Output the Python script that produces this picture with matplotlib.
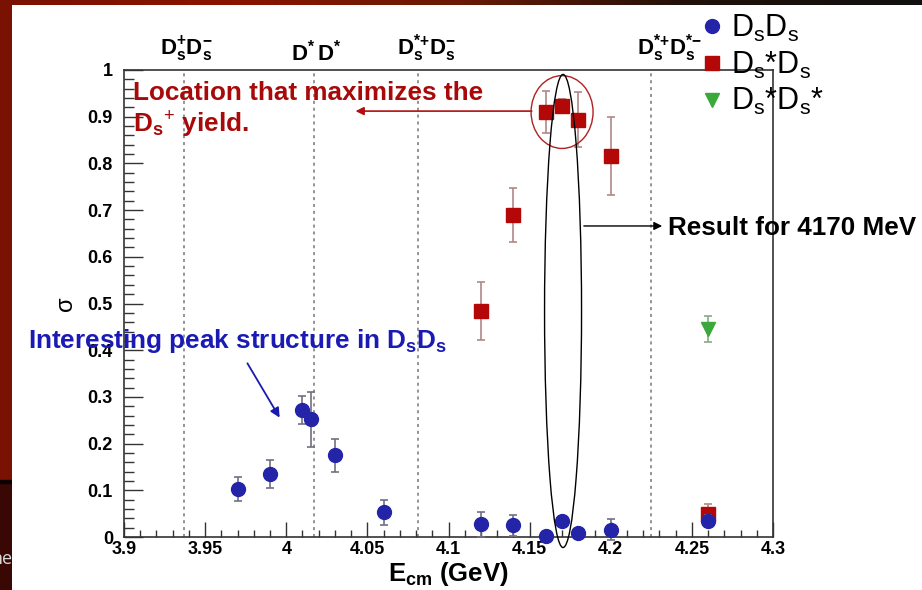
import numpy as np
import matplotlib
matplotlib.use('Agg')
import matplotlib.pyplot as plt
from matplotlib.patches import Ellipse
from matplotlib.lines import Line2D
from matplotlib.ticker import MultipleLocator
from matplotlib.colors import LinearSegmentedColormap

plt.rcParams['font.family'] = ['Liberation Sans', 'DejaVu Sans']
plt.rcParams['mathtext.fontset'] = 'custom'
plt.rcParams['mathtext.rm'] = 'Liberation Sans'
plt.rcParams['mathtext.bf'] = 'Liberation Sans:bold'
plt.rcParams['mathtext.it'] = 'Liberation Sans:italic'
plt.rcParams['mathtext.sf'] = 'Liberation Sans'

# ---------------- data ----------------
dsds_x = [3.97, 3.99, 4.01, 4.015, 4.03, 4.06, 4.12, 4.14, 4.16, 4.17, 4.18, 4.20, 4.26]
dsds_y = [0.103, 0.134, 0.271, 0.252, 0.175, 0.053, 0.027, 0.025, 0.002, 0.034, 0.009, 0.016, 0.035]
dsds_err = [0.025, 0.030, 0.030, 0.059, 0.035, 0.027, 0.026, 0.022, 0.008, 0.010, 0.008, 0.022, 0.012]

dsstards_x = [4.12, 4.14, 4.16, 4.17, 4.18, 4.20, 4.26]
dsstards_y = [0.483, 0.689, 0.910, 0.922, 0.894, 0.816, 0.050]
dsstards_err = [0.062, 0.058, 0.045, 0.015, 0.059, 0.083, 0.020]

dsstardsstar_x = [4.26]
dsstardsstar_y = [0.445]
dsstardsstar_err = [0.028]

threshold_x = [3.937, 4.017, 4.0815, 4.2245]
threshold_labels = [r'$\mathbf{D_s^{{+}}D_s^{{-}}}$', r'$\mathbf{D^{{*}}\,D^{{*}}}$',
                     r'$\mathbf{D_s^{{*}{+}}D_s^{{-}}}$', r'$\mathbf{D_s^{{*}{+}}D_s^{{*}{-}}}$']

xtick_vals = [3.9, 3.95, 4.0, 4.05, 4.1, 4.15, 4.2, 4.25, 4.3]
xtick_labels = ['3.9', '3.95', '4', '4.05', '4.1', '4.15', '4.2', '4.25', '4.3']
ytick_vals = [0, 0.1, 0.2, 0.3, 0.4, 0.5, 0.6, 0.7, 0.8, 0.9, 1.0]
ytick_labels = ['0', '0.1', '0.2', '0.3', '0.4', '0.5', '0.6', '0.7', '0.8', '0.9', '1']

legend_labels = [r'$\mathrm{D_sD_s}$', r'$\mathrm{D_s}$*$\mathrm{D_s}$', r'$\mathrm{D_s}$*$\mathrm{D_s}$*']

BLUE = '#2424a8'
RED = '#b40808'
GREEN = '#3aa83a'

W, H = 922, 590
fig = plt.figure(figsize=(W / 100, H / 100), dpi=100)
fig.patch.set_facecolor('white')

# slide background strips
lax = fig.add_axes([0, 0, 12 / W, 1])
lax.set_xlim(0, 1); lax.set_ylim(0, H)
lax.axis('off')
lax.axhspan(H - 480, H, color='#7a1204')
lax.axhspan(0, H - 483, color='#3a0804')
lax.axhspan(H - 483, H - 480, color='#0a0000')
lax.text(1.02, H - 564, 'ne', ha='right', va='baseline', fontsize=13,
         color='#d9d9d9', family='Open Sans', clip_on=True)

tax = fig.add_axes([0, 1 - 5 / H, 1, 5 / H])
tax.axis('off')
grad = np.linspace(0, 1, 256)
cm = LinearSegmentedColormap.from_list('g', ['#7a1204', '#8a1400', '#6a1a05', '#201008', '#101010'])
tax.imshow(grad[None, :], aspect='auto', cmap=cm, extent=[0, 1, 0, 1])

# main axes
ax = fig.add_axes([124 / W, 53 / H, 649 / W, 467 / H])
ax.set_xlim(3.9, 4.3)
ax.set_ylim(0, 1)

for tx in threshold_x:
    ax.axvline(tx, color='#777777', lw=1.1, ls=(0, (2, 2.5)), zorder=1)

ax.errorbar(dsstards_x, dsstards_y, yerr=dsstards_err, fmt='s', color=RED, ms=10.5,
            ecolor='#b08888', elinewidth=1.2, capsize=3, capthick=1.2, clip_on=False, zorder=3)
ax.errorbar(dsstardsstar_x, dsstardsstar_y, yerr=dsstardsstar_err, fmt='v', color=GREEN, ms=10,
            ecolor='#88aa88', elinewidth=1.2, capsize=3, capthick=1.2, clip_on=False, zorder=3)
ax.errorbar(dsds_x, dsds_y, yerr=dsds_err, fmt='o', color=BLUE, ms=10,
            ecolor='#707080', elinewidth=1.2, capsize=3, capthick=1.2, clip_on=False, zorder=4)

ax.xaxis.set_major_locator(plt.FixedLocator(xtick_vals))
ax.set_xticklabels(xtick_labels)
ax.xaxis.set_minor_locator(MultipleLocator(0.01))
ax.yaxis.set_major_locator(plt.FixedLocator(ytick_vals))
ax.set_yticklabels(ytick_labels)
ax.yaxis.set_minor_locator(MultipleLocator(0.02))
ax.tick_params(axis='both', which='both', direction='in', top=False, right=False,
               labelsize=13, width=1.0, color='#333333')
ax.tick_params(axis='y', which='major', length=14, pad=8)
ax.tick_params(axis='y', which='minor', length=7)
ax.tick_params(axis='x', which='major', length=11, pad=3)
ax.tick_params(axis='x', which='minor', length=5)
for lab in ax.get_xticklabels() + ax.get_yticklabels():
    lab.set_fontweight('bold')
for sp in ax.spines.values():
    sp.set_linewidth(1.2)
    sp.set_color('#333333')

ax.set_xlabel(r'$\mathbf{E_{cm}}$ (GeV)', fontsize=18.5, fontweight='bold', labelpad=1)
ax.set_ylabel('σ', fontsize=17, labelpad=8)

# threshold labels (left edges placed relative to the threshold lines)
label_shift = [-0.0148, -0.0142, -0.0130, -0.0086]
for tx, sh, tl in zip(threshold_x, label_shift, threshold_labels):
    ax.text(tx + sh, 1.012, tl, ha='left', va='bottom', fontsize=16,
            transform=ax.get_xaxis_transform(), family='Liberation Sans Narrow')

# ellipses
ax.add_patch(Ellipse((4.170, 0.910), 0.0382, 0.156, fill=False, ec='#b02020', lw=1.0,
                     clip_on=False, zorder=5))
ax.add_patch(Ellipse((4.1706, 0.484), 0.0228, 1.013, fill=False, ec='black', lw=1.0,
                     clip_on=False, zorder=5))

# arrows
ax.annotate('', xy=(4.041, 0.912), xytext=(4.153, 0.912),
            arrowprops=dict(arrowstyle='-|>', color='#b01010', lw=1.2, mutation_scale=12))
ax.annotate('', xy=(4.2334, 0.666), xytext=(4.1817, 0.666),
            arrowprops=dict(arrowstyle='-|>', color='black', lw=1.0, mutation_scale=12))
ax.annotate('', xy=(3.9968, 0.2505), xytext=(3.9752, 0.377),
            arrowprops=dict(arrowstyle='-|>', color='#1a1ab0', lw=1.3, mutation_scale=14))

# annotation texts
TFS = 18.8
fig.text(133 / W, 1 - 100 / H, 'Location that maximizes the', color='#a80a0a',
         fontsize=TFS, fontweight='bold', va='baseline', ha='left')
fig.text(133 / W, 1 - 132 / H, r'$\mathbf{D_s}^{+}$ yield.', color='#a80a0a',
         fontsize=TFS, fontweight='bold', va='baseline', ha='left')
fig.text(668 / W, 1 - 235 / H, 'Result for 4170 MeV', color='black',
         fontsize=TFS, fontweight='bold', va='baseline', ha='left')
fig.text(28 / W, 1 - 348 / H, r'Interesting peak structure in $\mathbf{D_sD_s}$', color='#1a1ab4',
         fontsize=TFS, fontweight='bold', va='baseline', ha='left')

# legend
handles = [Line2D([], [], ls='none', marker='o', color=BLUE, ms=10),
           Line2D([], [], ls='none', marker='s', color=RED, ms=10),
           Line2D([], [], ls='none', marker='v', color=GREEN, ms=10)]
fig.legend(handles, legend_labels, loc='upper left', bbox_to_anchor=(697 / W, 1 - 13 / H),
           frameon=False, fontsize=22, handlelength=1.0, handletextpad=0.12,
           labelspacing=0.18, borderaxespad=0, borderpad=0)

fig.savefig('out.png', dpi=100)
